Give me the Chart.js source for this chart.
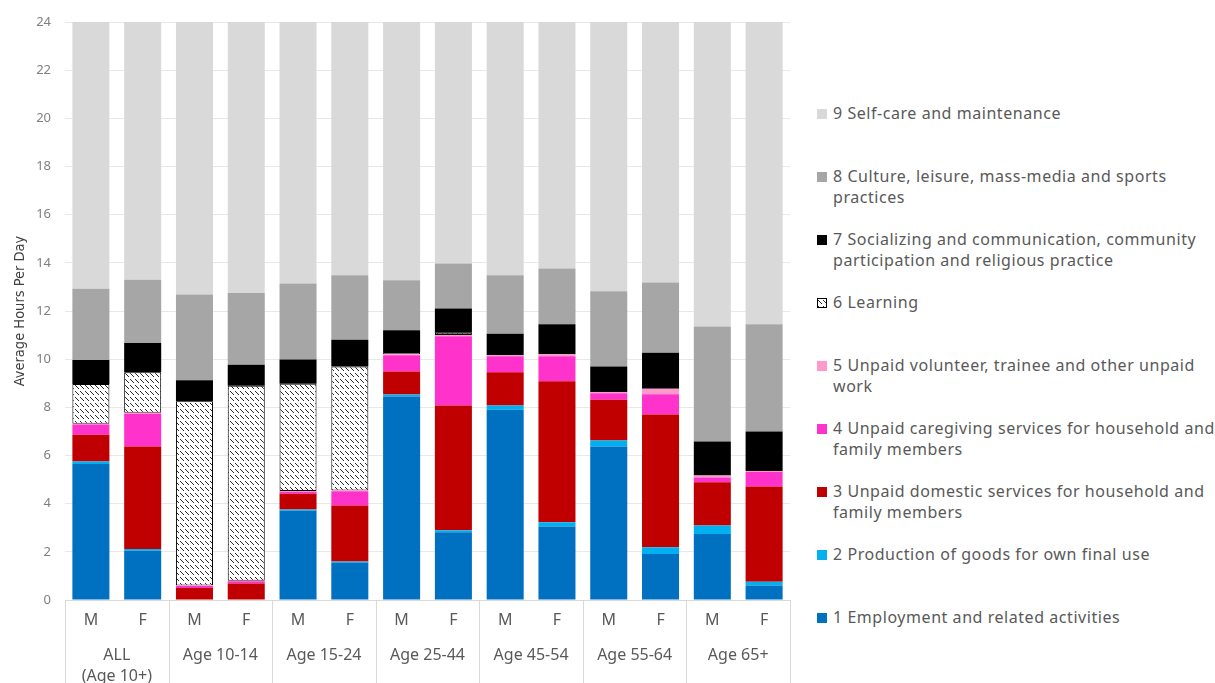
<!DOCTYPE html>
<html>
<head>
<meta charset="utf-8">
<script src="https://cdn.jsdelivr.net/npm/chart.js@4.4.1/dist/chart.umd.min.js"></script>
<style>
html,body{margin:0;padding:0;background:#fff;width:1215px;height:683px;overflow:hidden;}
#wrap{position:absolute;left:0;top:0;width:800px;height:683px;}
#legend{position:absolute;left:817px;top:103px;font-family:'Noto Sans',sans-serif;}
.item{height:63px;display:flex;align-items:flex-start;}
.sw{width:10px;height:10px;margin-top:6px;margin-right:6px;flex:none;box-sizing:border-box;}
.txt{font-size:16px;line-height:21px;color:#595959;white-space:nowrap;letter-spacing:0.55px;}
</style>
</head>
<body>
<div id="wrap"><canvas id="c" width="800" height="683"></canvas></div>
<div id="legend"></div>
<script>
// ---- data ----
const groups = [['ALL', '(Age 10+)'], 'Age 10-14', 'Age 15-24', 'Age 25-44', 'Age 45-54', 'Age 55-64', 'Age 65+'];
const sexes = ['M','F','M','F','M','F','M','F','M','F','M','F','M','F'];
const yTicks = [0,2,4,6,8,10,12,14,16,18,20,22,24];

const name1 = ['1 Employment and related activities'];
const name2 = ['2 Production of goods for own final use'];
const name3 = ['3 Unpaid domestic services for household and', 'family members'];
const name4 = ['4 Unpaid caregiving services for household and', 'family members'];
const name5 = ['5 Unpaid volunteer, trainee and other unpaid', 'work'];
const name6 = ['6 Learning'];
const name7 = ['7 Socializing and communication, community', 'participation and religious practice'];
const name8 = ['8 Culture, leisure, mass-media and sports', 'practices'];
const name9 = ['9 Self-care and maintenance'];

//                    ALL M  ALL F  10-14M 10-14F 15-24M 15-24F 25-44M 25-44F 45-54M 45-54F 55-64M 55-64F 65+M   65+F
const employment   = [5.65, 2.05, 0,     0,     3.71,  1.56,  8.45,  2.81,  7.90,  3.05,  6.37,  1.91,  2.74,  0.60];
const production   = [0.10, 0.07, 0,     0,     0.05,  0.04,  0.08,  0.09,  0.18,  0.18,  0.25,  0.28,  0.35,  0.16];
const domestic     = [1.11, 4.25, 0.50,  0.69,  0.65,  2.32,  0.96,  5.18,  1.38,  5.85,  1.70,  5.51,  1.80,  3.95];
const caregiving   = [0.43, 1.36, 0.08,  0.09,  0.09,  0.60,  0.67,  2.87,  0.66,  1.04,  0.26,  0.84,  0.20,  0.60];
const volunteer    = [0.03, 0.05, 0.02,  0.02,  0.03,  0.03,  0.04,  0.05,  0.04,  0.08,  0.05,  0.23,  0.08,  0.05];
const learning     = [1.65, 1.68, 7.65,  8.10,  4.45,  5.15,  0.10,  0.10,  0,     0,     0,     0,     0,     0];
const socializing  = [1.00, 1.21, 0.87,  0.87,  1.01,  1.11,  0.90,  1.00,  0.90,  1.25,  1.07,  1.50,  1.41,  1.64];
const culture      = [2.95, 2.63, 3.56,  2.98,  3.15,  2.67,  2.08,  1.87,  2.42,  2.31,  3.12,  2.91,  4.78,  4.45];
const selfcare     = [11.08,10.70,11.32, 11.25, 10.86, 10.52, 10.72, 10.03, 10.52, 10.24, 11.18, 10.82, 12.64, 12.55];

// ---- styling ----
function hatchCanvas(){
  const c = document.createElement('canvas'); c.width = 5; c.height = 6;
  const g = c.getContext('2d');
  g.fillStyle = '#fff'; g.fillRect(0,0,5,6);
  g.strokeStyle = '#2a2a2a'; g.lineWidth = 1;
  g.beginPath(); g.moveTo(0,1); g.lineTo(4,5); g.stroke();
  return c;
}
const hc = hatchCanvas();
const hatch = document.createElement('canvas').getContext('2d').createPattern(hc,'repeat');

const series = [
  {name:name1, data:employment,  color:'#0070C0'},
  {name:name2, data:production,  color:'#00B0F0'},
  {name:name3, data:domestic,    color:'#C00000'},
  {name:name4, data:caregiving,  color:'#FF33CC'},
  {name:name5, data:volunteer,   color:'#FF99CC'},
  {name:name6, data:learning,    color:hatch, border:'#000'},
  {name:name7, data:socializing, color:'#000000'},
  {name:name8, data:culture,     color:'#A6A6A6'},
  {name:name9, data:selfcare,    color:'#D9D9D9'}
];

const datasets = series.map(s => ({
  label: s.name.join(' '),
  data: s.data,
  backgroundColor: s.color,
  borderColor: s.border || 'rgba(0,0,0,0)',
  borderWidth: s.border ? 1 : 0,
  borderSkipped: false,
  barPercentage: 0.715,
  categoryPercentage: 1.0
}));

const groupLines = {
  id: 'groupLines',
  afterDraw(chart){
    const x = chart.scales.x, a = chart.chartArea, ctx = chart.ctx;
    const n = x.getLabels().length;
    ctx.save();
    ctx.strokeStyle = '#d9d9d9'; ctx.lineWidth = 1;
    for (let i = 0; i <= n; i += 2){
      let px;
      if (i === 0) px = a.left;
      else if (i === n) px = a.right;
      else px = (x.getPixelForValue(i-1) + x.getPixelForValue(i)) / 2;
      px = Math.round(px) + 0.5;
      ctx.beginPath(); ctx.moveTo(px, a.bottom); ctx.lineTo(px, chart.height); ctx.stroke();
    }
    ctx.restore();
  }
};

Chart.defaults.font.family = "'Noto Sans', sans-serif";
Chart.defaults.color = '#595959';

new Chart(document.getElementById('c'), {
  type: 'bar',
  data: { labels: sexes, datasets },
  options: {
    responsive: false,
    animation: false,
    devicePixelRatio: 1,
    layout: { padding: { top: 22, right: 10, left: 0, bottom: 0 } },
    plugins: { legend: { display: false }, tooltip: { enabled: false } },
    scales: {
      x: {
        stacked: true,
        grid: { display: false, drawTicks: false },
        border: { display: true, color: '#d9d9d9' },
        ticks: { color: '#595959', font: { size: 16 }, padding: 11, maxRotation: 0, autoSkip: false },
        afterFit: s => { s.height = 38; }
      },
      x2: {
        type: 'category',
        position: 'bottom',
        labels: groups,
        offset: true,
        grid: { display: false, drawTicks: false },
        border: { display: false },
        ticks: { color: '#595959', font: { size: 16, lineHeight: 1.3 }, padding: 7, maxRotation: 0, autoSkip: false },
        afterFit: s => { s.height = 45; }
      },
      y: {
        stacked: true,
        min: 0, max: 24,
        afterBuildTicks: s => { s.ticks = yTicks.map(v => ({ value: v })); },
        grid: { color: '#e8e8e8', drawTicks: false },
        border: { display: false },
        ticks: { color: '#7f7f7f', font: { size: 13 }, padding: 14 },
        title: { display: true, text: 'Average Hours Per Day', color: '#404040',
                 font: { family: "'DejaVu Sans Condensed', 'Liberation Sans Narrow', sans-serif", size: 14.5 },
                 padding: { top: 12, bottom: 0 } },
        afterFit: s => { s.width = 65; }
      }
    }
  },
  plugins: [groupLines]
});

// ---- HTML legend (reverse order, 9 at top) ----
const leg = document.getElementById('legend');
series.slice().reverse().forEach(s => {
  const it = document.createElement('div'); it.className = 'item';
  const sw = document.createElement('div'); sw.className = 'sw';
  if (s.border){
    sw.style.backgroundImage = 'url(' + hc.toDataURL() + ')';
    sw.style.border = '1px solid #000';
  } else {
    sw.style.background = s.color;
  }
  const tx = document.createElement('div'); tx.className = 'txt';
  tx.innerHTML = s.name.map(l => l.replace(/&/g,'&amp;').replace(/</g,'&lt;')).join('<br>');
  it.appendChild(sw); it.appendChild(tx);
  leg.appendChild(it);
});
</script>
</body>
</html>
